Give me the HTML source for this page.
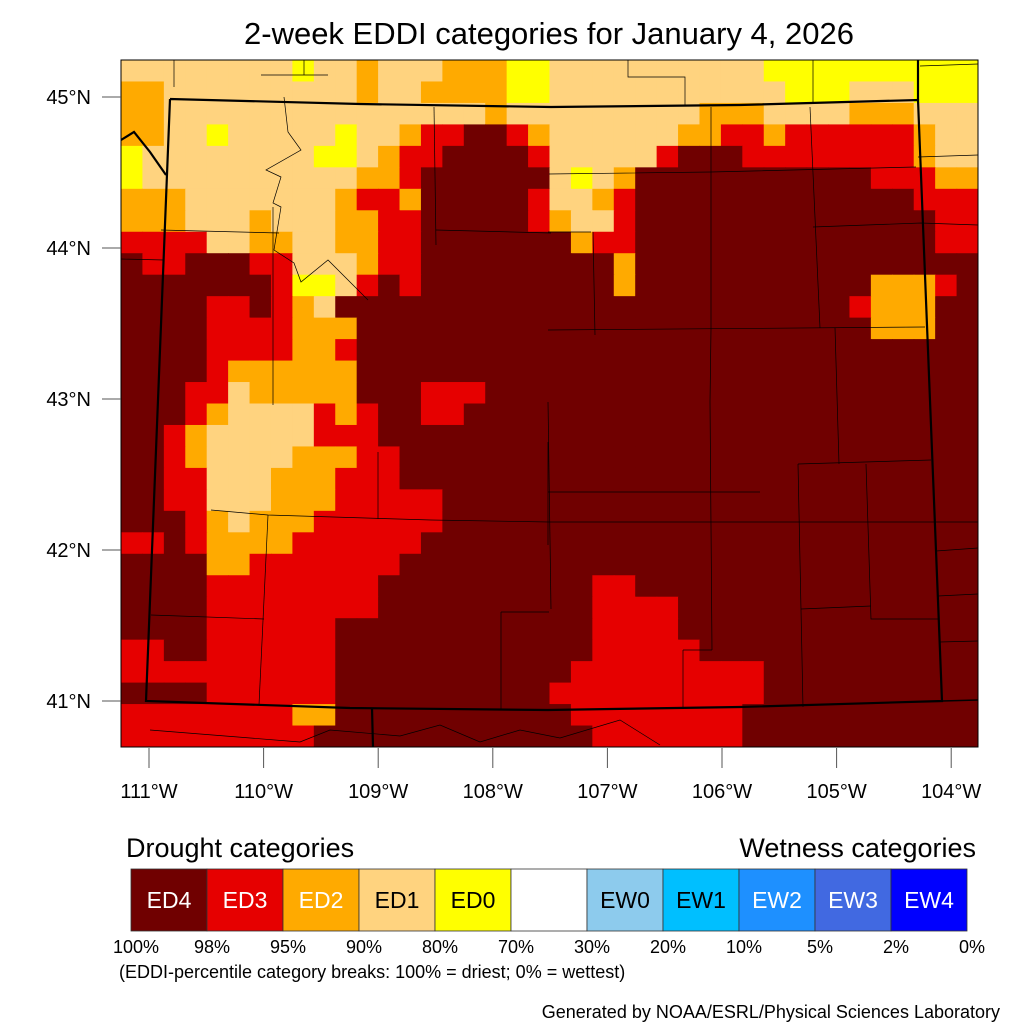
<!DOCTYPE html>
<html><head><meta charset="utf-8"><style>
body{margin:0;background:#fff;}
svg{display:block;font-family:"Liberation Sans",Arial,sans-serif;}
</style></head><body>
<svg id="chart" width="1024" height="1024" viewBox="0 0 1024 1024">
<rect width="1024" height="1024" fill="#fff"/>
<text x="549" y="44" font-size="31" text-anchor="middle">2-week EDDI categories for January 4, 2026</text>
<defs><clipPath id="mapclip"><rect x="121" y="60" width="857" height="687"/></clipPath></defs>
<g id="cells" clip-path="url(#mapclip)"></g>
<g clip-path="url(#mapclip)" fill="none" stroke="#000" stroke-width="0.7">
<polyline points="549,174 711,172 916,167"/>
<polyline points="711,107 711,330 710,402 712,650"/>
<polyline points="810,107 820,328"/>
<polyline points="548,330 925,327"/>
<polyline points="813,227 921,223 978,225"/>
<polyline points="593,232 595,335"/>
<polyline points="548,232 591,232"/>
<polyline points="835,328 839,464"/>
<polyline points="798,464 931,460"/>
<polyline points="798,464 803,707"/>
<polyline points="866,464 871,619 938,619"/>
<polyline points="801,609 871,606"/>
<polyline points="548,492 760,492"/>
<polyline points="548,402 551,609"/>
<polyline points="683,650 712,650"/>
<polyline points="683,650 683,707"/>
<polyline points="936,551 978,548"/>
<polyline points="938,596 978,594"/>
<polyline points="940,642 978,641"/>
<polyline points="211,510 268,515 431,520 549,522 978,522"/>
<polyline points="268,515 259,705"/>
<polyline points="378,452 378,519"/>
<polyline points="548,442 548,545"/>
<polyline points="501,612 501,709"/>
<polyline points="501,612 549,612"/>
<polyline points="151,615 264,619"/>
<polyline points="161,230 279,233"/>
<polyline points="273,207 273,405"/>
<polyline points="434,107 436,245"/>
<polyline points="436,230 551,233"/>
<polyline points="121,259 164,260"/>
<polyline points="284,97 288,132 301,150 266,170 281,177 273,203 281,207 274,250 294,263 301,282 328,260 368,300"/>
<polyline points="261,75 328,75"/>
<polyline points="174,60 174,87"/>
<polyline points="304,60 304,75"/>
<polyline points="628,60 628,77 685,77 685,105"/>
<polyline points="813,60 813,102"/>
<polyline points="920,66 978,64"/>
<polyline points="918,157 978,155"/>
<polyline points="150,730 300,742 330,730 400,736 440,725 480,742 520,730 560,738 620,720 660,745"/>
</g>
<g clip-path="url(#mapclip)" fill="none" stroke="#000">
<polyline stroke-width="2.2" points="170,99 360,104 551,107 740,105 918,100 942,701 740,707 548,710 350,708 146,701 170,99"/>
<polyline stroke-width="2.2" points="918,60 918,100"/>
<polyline stroke-width="2.2" points="372,708 373,747"/>
<polyline stroke-width="2.2" points="121,140 134,132 150,152 166,175"/>
<polyline stroke-width="1.5" points="942,701 978,700"/>
</g>
<rect x="121" y="60" width="857" height="687" fill="none" stroke="#000" stroke-width="1"/>
<g id="axes" font-size="20" fill="#000"></g>
<g id="legend"></g>
<text x="119" y="978" font-size="18">(EDDI-percentile category breaks: 100% = driest; 0% = wettest)</text>
<text x="1000" y="1018" font-size="18" text-anchor="end">Generated by NOAA/ESRL/Physical Sciences Laboratory</text>
</svg>
<script>
const categoryColors = ["#ffff00","#ffd37f","#ffaa00","#e60000","#700000"];
const gridRows = [
"1111111101121112220011111111110000000000",
"2211111111121122220011111111111000111000",
"2211111111111111121111111112221111222111",
"2211011111011233443211111122332333333211",
"0111111110012334444311111344433333333211",
"0111111111122344444410124444444444433322",
"2221111111233244444311234444444444444333",
"2221112111223344444321134444444444444433",
"3333112211223344444442334444444444444433",
"4334443311123344444444424444444444444444",
"4444444300134344444444424444444444422234",
"4444334321444444444444444444444444322244",
"4444333322244444444444444444444444422244",
"4444333322344444444444444444444444444444",
"4444322222244444444444444444444444444444",
"4443312222244433344444444444444444444444",
"4443211113234433444444444444444444444444",
"4432111113334444444444444444444444444444",
"4432111122233444444444444444444444444444",
"4433111222333444444444444444444444444444",
"4433111222333334444444444444444444444444",
"4443212223333334444444444444444444444444",
"3343222233333344444444444444444444444444",
"4444223333333444444444444444444444444444",
"4444333333334444444444334444444444444444",
"4444333333334444444444333344444444444444",
"4444333333444444444444333344444444444444",
"3344333333444444444444333334444444444444",
"3333333333444444444443333333334444444444",
"4444333333444444444433333333334444444444",
"3333333322444444444443333333344444444444",
"3333333334444444444444333333344444444444"
];
const latTicks = ["45°N","44°N","43°N","42°N","41°N"];
const latValues = [45,44,43,42,41];
const lonTicks = ["111°W","110°W","109°W","108°W","107°W","106°W","105°W","104°W"];
const lonValues = [-111,-110,-109,-108,-107,-106,-105,-104];
const legendLabels = ["ED4","ED3","ED2","ED1","ED0","","EW0","EW1","EW2","EW3","EW4"];
const legendColors = ["#700000","#e60000","#ffaa00","#ffd37f","#ffff00","#ffffff","#8dcbed","#00bfff","#1e90ff","#4169e1","#0000ff"];
const legendTextColors = ["#fff","#fff","#fff","#000","#000","#000","#000","#000","#fff","#fff","#fff"];
const legendBreaks = ["100%","98%","95%","90%","80%","70%","30%","20%","10%","5%","2%","0%"];

const NS="http://www.w3.org/2000/svg";
const X0=121,Y0=60,W=857,H=687,NC=40,NR=32;
const cw=W/NC,ch=H/NR;
function colX(c){return X0+c*cw;}
function rowY(r){return Y0+r*ch;}
function latY(lat){return 97+(45-lat)*151;}
function lonX(lon){return 149+(lon+111)*114.6;}

const cells=document.getElementById('cells');
gridRows.forEach((row,r)=>{
  for(let c=0;c<NC;c++){
    const v=parseInt(row[c]||"4");
    const rect=document.createElementNS(NS,'rect');
    rect.setAttribute('x',colX(c));rect.setAttribute('y',rowY(r));
    rect.setAttribute('width',cw+0.6);rect.setAttribute('height',ch+0.6);
    rect.setAttribute('fill',categoryColors[v]);
    
    
    cells.appendChild(rect);
  }
});

const axes=document.getElementById('axes');
latValues.forEach((lat,i)=>{
  const y=latY(lat);
  const t=document.createElementNS(NS,'line');
  t.setAttribute('x1',102);t.setAttribute('x2',121);t.setAttribute('y1',y);t.setAttribute('y2',y);
  t.setAttribute('stroke','#555');t.setAttribute('stroke-width','1');
  
  
  axes.appendChild(t);
  const l=document.createElementNS(NS,'text');
  l.setAttribute('x',91);l.setAttribute('y',y+7);l.setAttribute('text-anchor','end');
  l.textContent=latTicks[i];
  
  
  axes.appendChild(l);
});
lonValues.forEach((lon,i)=>{
  const x=lonX(lon);
  const t=document.createElementNS(NS,'line');
  t.setAttribute('x1',x);t.setAttribute('x2',x);t.setAttribute('y1',748);t.setAttribute('y2',768);
  t.setAttribute('stroke','#555');t.setAttribute('stroke-width','1');
  
  
  axes.appendChild(t);
  const l=document.createElementNS(NS,'text');
  l.setAttribute('x',x);l.setAttribute('y',798);l.setAttribute('text-anchor','middle');
  l.textContent=lonTicks[i];
  
  
  axes.appendChild(l);
});

const lg=document.getElementById('legend');
function mk(tag,attrs){const e=document.createElementNS(NS,tag);for(const k in attrs)e.setAttribute(k,attrs[k]);return e;}
const t1=mk('text',{x:126,y:857,'font-size':27});t1.textContent="Drought categories";


lg.appendChild(t1);
const t2=mk('text',{x:976,y:857,'font-size':27,'text-anchor':'end'});t2.textContent="Wetness categories";


lg.appendChild(t2);
const LX=131,LW=76,LY=869,LH=62;
legendLabels.forEach((lab,i)=>{
  const r=mk('rect',{x:LX+i*LW,y:LY,width:LW,height:LH,fill:legendColors[i],stroke:'#333','stroke-width':0.8});
  
  
  lg.appendChild(r);
  const t=mk('text',{x:LX+i*LW+LW/2,y:LY+39,'font-size':23,'text-anchor':'middle',fill:legendTextColors[i]});
  t.textContent=lab;
  
  
  lg.appendChild(t);
});
legendBreaks.forEach((b,i)=>{
  const t=mk('text',{x:LX+i*LW+5,y:953,'font-size':18,'text-anchor':'middle'});
  t.textContent=b;
  
  
  lg.appendChild(t);
});
</script>
</body></html>
